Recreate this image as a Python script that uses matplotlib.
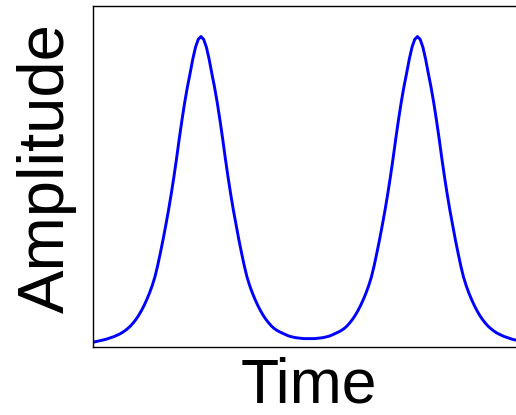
import matplotlib
matplotlib.use("Agg")
import matplotlib.pyplot as plt

# Time axis samples (arbitrary units, step 0.025) and amplitude values
time = [round(i * 0.025, 3) for i in range(161)]
amplitude = [
    # t = 0.000 .. 1.000
    0.015, 0.017, 0.019, 0.021, 0.023, 0.025, 0.028, 0.031, 0.034, 0.038,
    0.042, 0.047, 0.053, 0.060, 0.068, 0.078, 0.089, 0.102, 0.117, 0.134,
    0.153, 0.174, 0.198, 0.226, 0.262, 0.303, 0.346, 0.392, 0.440, 0.492,
    0.548, 0.608, 0.672, 0.732, 0.788, 0.838, 0.882, 0.928, 0.966, 0.991,
    1.000,
    # t = 1.025 .. 2.000
    0.991, 0.966, 0.928, 0.882, 0.838, 0.788, 0.732, 0.672, 0.608, 0.548,
    0.492, 0.440, 0.392, 0.346, 0.303, 0.262, 0.226, 0.198, 0.174, 0.153,
    0.134, 0.117, 0.102, 0.089, 0.078, 0.068, 0.060, 0.054, 0.049, 0.045,
    0.041, 0.037, 0.034, 0.032, 0.030, 0.029, 0.028, 0.027, 0.027, 0.027,
    # t = 2.025 .. 3.000
    0.027, 0.027, 0.028, 0.029, 0.030, 0.032, 0.034, 0.037, 0.041, 0.045,
    0.049, 0.054, 0.060, 0.068, 0.078, 0.089, 0.102, 0.117, 0.134, 0.153,
    0.174, 0.198, 0.226, 0.262, 0.303, 0.346, 0.392, 0.440, 0.492, 0.548,
    0.608, 0.672, 0.732, 0.788, 0.838, 0.882, 0.928, 0.966, 0.991, 1.000,
    # t = 3.025 .. 4.000
    0.991, 0.966, 0.928, 0.882, 0.838, 0.788, 0.732, 0.672, 0.608, 0.548,
    0.492, 0.440, 0.392, 0.346, 0.303, 0.262, 0.226, 0.198, 0.174, 0.153,
    0.134, 0.117, 0.102, 0.089, 0.078, 0.068, 0.060, 0.053, 0.047, 0.042,
    0.038, 0.034, 0.031, 0.028, 0.025, 0.023, 0.021, 0.019, 0.017, 0.015,
]
x_label = "Time"
y_label = "Amplitude"

plt.rcParams['font.family'] = ['Liberation Sans', 'DejaVu Sans']

fig = plt.figure(figsize=(5.16, 4.15), dpi=100)
ax = fig.add_axes([92.7 / 516, (415 - 347) / 415, 433 / 516, 341.5 / 415])
ax.plot(time, amplitude, color='#0000ff', linewidth=2.1, solid_joinstyle='round')
ax.set_xlim(0, 4)
ax.set_ylim(0, 1.1)
ax.set_xticks([])
ax.set_yticks([])
for s in ax.spines.values():
    s.set_linewidth(1.0)
    s.set_color('black')

ax.set_xlabel(x_label, fontsize=45)
ax.xaxis.label.set_va('baseline')
ax.xaxis.set_label_coords(0.5, (347 - 402) / 341.5)
ax.set_ylabel(y_label, fontsize=47)
ax.yaxis.set_label_coords((77 - 92.7) / 433, (347 - 168.5) / 341.5)

fig.savefig("out.png", dpi=100)
